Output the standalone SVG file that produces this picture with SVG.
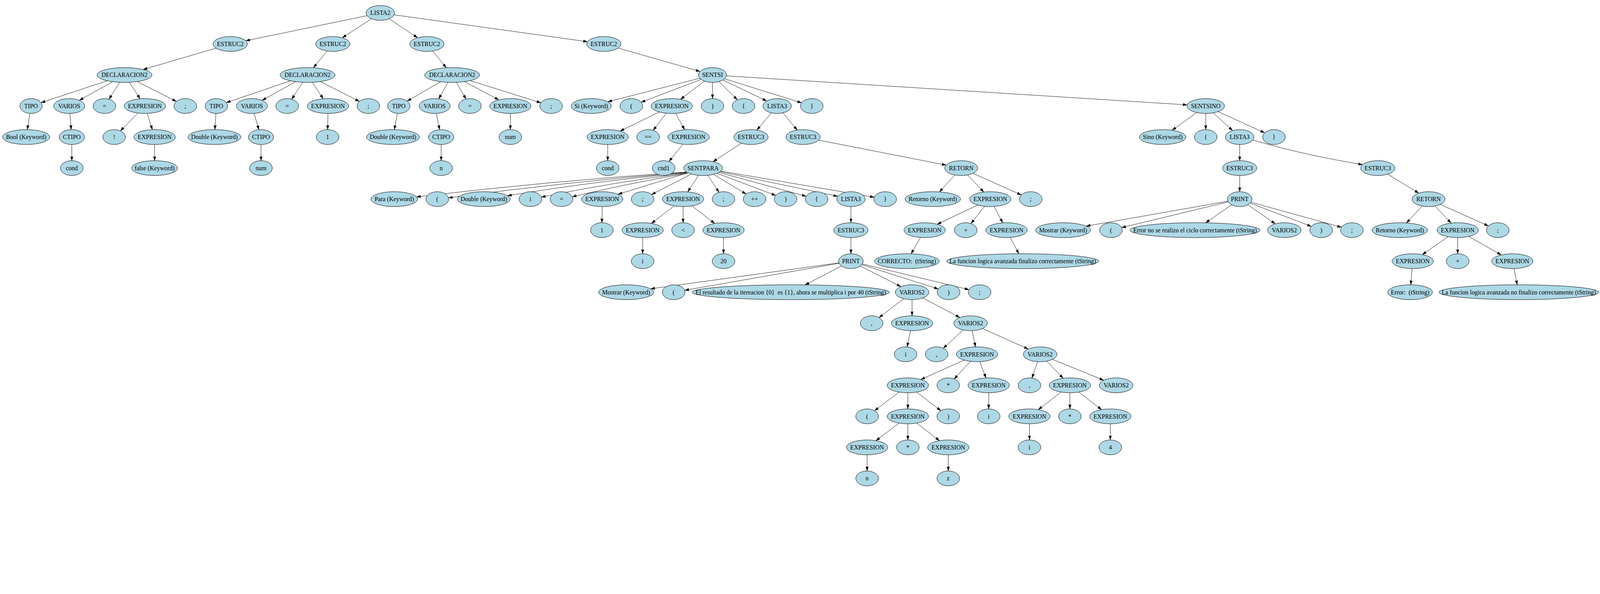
<svg xmlns="http://www.w3.org/2000/svg" width="4947" height="1521" viewBox="0 0 4947 1521" preserveAspectRatio="xMinYMin meet">
<style>
svg{width:100vw;height:auto;max-width:4947px}
.n ellipse{fill:#add8e6;stroke:#000;stroke-width:1.2}
.n text{font-family:"Liberation Serif","Times New Roman",serif;font-size:19px;text-anchor:middle;fill:#000}
.pre{white-space:pre}
#connectors path{stroke:#000;stroke-width:1.1;fill:none;marker-end:url(#arr)}
</style>
<defs>
<marker id="arr" markerUnits="userSpaceOnUse" viewBox="0 0 13 10" markerWidth="13" markerHeight="10" refX="13" refY="5" orient="auto"><path d="M0,0.8 L13,5 L0,9.2 z" fill="#000" stroke="#000" stroke-width="0.5"/></marker>
</defs>
<rect width="4947" height="1521" fill="#fff"/>
<g id="connectors">
<path d="M1135,48.5 L760,126"/>
<path d="M1148.5,58 L1058.3,116.8"/>
<path d="M1203.1,58.1 L1291.1,116.7"/>
<path d="M1218.5,45.9 L1816.5,129"/>
<path d="M668.1,148.9 L442.3,215.2"/>
<path d="M1011.4,157.7 L969.2,209.5"/>
<path d="M1337.6,157.7 L1379.8,209.5"/>
<path d="M1911.3,148.7 L2164.7,221.1"/>
<path d="M331.6,249.7 L126.9,317.7"/>
<path d="M348.2,252.7 L245.2,310.5"/>
<path d="M370.4,254.6 L336.7,306.8"/>
<path d="M399.9,254.6 L433.3,305.6"/>
<path d="M424.7,252.3 L545.4,313.9"/>
<path d="M92.4,350.9 L84.6,401"/>
<path d="M215.9,351 L220.1,401"/>
<path d="M222,447 L222,497"/>
<path d="M426.6,349.7 L372.1,404.7"/>
<path d="M455.1,350.9 L470.9,401.1"/>
<path d="M478,447 L478,497"/>
<path d="M898.4,249.9 L699.7,317.5"/>
<path d="M914,252.7 L810.3,310.5"/>
<path d="M936.1,254.6 L901.9,306.9"/>
<path d="M965.9,254.6 L999.3,305.6"/>
<path d="M990.7,252.3 L1111.4,313.9"/>
<path d="M667.6,351 L664.4,401"/>
<path d="M785.6,350.8 L800.4,401.3"/>
<path d="M807,447 L807,497"/>
<path d="M1014,351 L1013,401"/>
<path d="M1362.2,252.8 L1259,312.9"/>
<path d="M1385.2,254.7 L1356.5,305.8"/>
<path d="M1411,254.7 L1440.7,306.5"/>
<path d="M1436.4,252.5 L1542.2,308.9"/>
<path d="M1453.2,249.3 L1672.4,318.1"/>
<path d="M1228.7,350.8 L1219.3,401"/>
<path d="M1348.8,351 L1359.2,401"/>
<path d="M1364,447 L1364,497"/>
<path d="M1578,351 L1578,401"/>
<path d="M2163.8,242 L1879,314.9"/>
<path d="M2167.8,245.5 L1982.2,316.4"/>
<path d="M2178.2,250.9 L2104.3,307.2"/>
<path d="M2203,255 L2203,305"/>
<path d="M2223.3,252.3 L2279.8,308.8"/>
<path d="M2235.2,247.5 L2370.6,312.4"/>
<path d="M2240.5,243.7 L2478.4,318.1"/>
<path d="M2246.2,234.7 L3670.7,324.4"/>
<path d="M2038.9,346.5 L1917.1,405.5"/>
<path d="M2060.1,350.2 L2019.6,403.4"/>
<path d="M2089.2,350.6 L2116.8,401.4"/>
<path d="M1879,447 L1879,497"/>
<path d="M2111.3,446.1 L2068.3,499.6"/>
<path d="M2385.2,349 L2340.2,402.4"/>
<path d="M2420.6,349 L2465,402.4"/>
<path d="M2292.5,443.1 L2204.5,500.2"/>
<path d="M2531.3,433.5 L2925.3,510.8"/>
<path d="M2122,532 Q1700,560 1287.7,609.1"/>
<path d="M2122,533 Q1760,562 1386.5,612"/>
<path d="M2123,534 Q1830,562 1569.2,605.6"/>
<path d="M2124,535 Q1890,565 1673.8,609.9"/>
<path d="M2125,536 Q1940,568 1769.2,608.7"/>
<path d="M2127.2,534.4 L1910.6,601"/>
<path d="M2138.1,538.4 L2014.6,601.8"/>
<path d="M2159.6,542.3 L2126.5,593.6"/>
<path d="M2188.6,542.3 L2223.1,594.9"/>
<path d="M2206.2,539.4 L2307.2,600.4"/>
<path d="M2216.8,536.1 L2398.6,604.6"/>
<path d="M2222.9,533.4 L2492.7,607.2"/>
<path d="M2226.6,531.1 L2590.2,607.4"/>
<path d="M2228.8,529.3 L2703.1,610.2"/>
<path d="M1862,639 L1861,689"/>
<path d="M2084.9,636.8 L2014.1,691.2"/>
<path d="M2112,639 L2112,689"/>
<path d="M2139.1,636.8 L2209.9,691.2"/>
<path d="M1987,735 L1987,785"/>
<path d="M2237,735 L2237,785"/>
<path d="M2631,639 L2631,689"/>
<path d="M2631,735 L2631,785"/>
<path d="M2594,813.1 L2011.7,893.5"/>
<path d="M2594.5,814.4 L2116.8,898.1"/>
<path d="M2602.1,822.9 L2489.1,881.2"/>
<path d="M2660.1,822.8 L2785.8,886.7"/>
<path d="M2664.6,818.7 L2901.5,894"/>
<path d="M2666.3,816.5 L2996.1,896.1"/>
<path d="M2794.1,923.9 L2717.8,982.5"/>
<path d="M2820,927 L2820,977"/>
<path d="M2853.3,921.7 L2967.7,982.3"/>
<path d="M2815.2,1023 L2804.8,1073"/>
<path d="M2978.4,1020.7 L2916.4,1077.3"/>
<path d="M3005.8,1023 L3016.2,1073"/>
<path d="M3037.6,1016.3 L3179.4,1079.7"/>
<path d="M2981,1114 L2847,1174"/>
<path d="M3000.8,1117.8 L2950.2,1172.4"/>
<path d="M3029.5,1118.8 L3048.5,1169.2"/>
<path d="M2779.7,1212.8 L2703.9,1270.6"/>
<path d="M2807,1215 L2807,1265"/>
<path d="M2834.1,1212.8 L2909.2,1270.5"/>
<path d="M3057,1215 L3057,1265"/>
<path d="M2779.7,1308.8 L2708.3,1363.2"/>
<path d="M2807,1311 L2807,1361"/>
<path d="M2834.1,1308.8 L2904.9,1363.2"/>
<path d="M2681,1407 L2681,1457"/>
<path d="M2932,1407 L2932,1457"/>
<path d="M3208.2,1118.7 L3190.7,1169.6"/>
<path d="M3236.3,1117.2 L3287.2,1170.3"/>
<path d="M3254.2,1111.6 L3412.8,1176.4"/>
<path d="M3280.9,1212.8 L3210.1,1267.2"/>
<path d="M3308,1215 L3308,1265"/>
<path d="M3335.1,1212.8 L3405.9,1267.2"/>
<path d="M3183,1311 L3183,1361"/>
<path d="M3433,1311 L3433,1361"/>
<path d="M2952.5,541.3 L2904.5,593.7"/>
<path d="M2991.9,541.2 L3041.6,594.2"/>
<path d="M3008.2,536.2 L3158,603.1"/>
<path d="M3023.3,634.3 L2897.7,693.7"/>
<path d="M3044.5,638.1 L3002.2,691.6"/>
<path d="M3073.8,638.6 L3100.2,689.4"/>
<path d="M2846.1,734.5 L2817.1,785.2"/>
<path d="M3123.8,734.6 L3150,785"/>
<path d="M3700.1,348.2 L3624.1,403"/>
<path d="M3728,351 L3728,401"/>
<path d="M3751.1,349.1 L3811.2,404"/>
<path d="M3766.1,345.3 L3910.2,410.9"/>
<path d="M3833,447 L3833,497"/>
<path d="M3873.4,433.1 C4000,470 4100,490 4213,509.4"/>
<path d="M3833,543 L3833,593"/>
<path d="M4290.7,538.8 L4386.7,597.5"/>
<path d="M3796.5,622.4 L3358.3,699.5"/>
<path d="M3797.7,624.5 L3467.9,704.1"/>
<path d="M3808.1,633.3 L3727.6,689.3"/>
<path d="M3857.9,633.3 L3943.1,692.6"/>
<path d="M3865.2,628.2 L4054.7,700.5"/>
<path d="M3867.6,625.6 L4147.8,703.1"/>
<path d="M4397.3,637.2 L4348.7,689.7"/>
<path d="M4436.9,637.2 L4486.6,690.2"/>
<path d="M4453.2,632.2 L4602.1,699"/>
<path d="M4477.5,732.4 L4397.5,787.6"/>
<path d="M4507,735 L4507,785"/>
<path d="M4541.2,731.4 L4641.8,788.6"/>
<path d="M4366,831 L4362,881"/>
<path d="M4681,831 L4691,881"/>
</g>
<g id="n1" class="n"><ellipse cx="1176" cy="40" rx="44" ry="23"/><text x="1176" y="46.5">LISTA2</text></g>
<g id="n2" class="n"><ellipse cx="712" cy="136" rx="53" ry="23"/><text x="712" y="142.5">ESTRUC2</text></g>
<g id="n3" class="n"><ellipse cx="1029" cy="136" rx="53" ry="23"/><text x="1029" y="142.5">ESTRUC2</text></g>
<g id="n4" class="n"><ellipse cx="1320" cy="136" rx="53" ry="23"/><text x="1320" y="142.5">ESTRUC2</text></g>
<g id="n5" class="n"><ellipse cx="1867" cy="136" rx="53" ry="23"/><text x="1867" y="142.5">ESTRUC2</text></g>
<g id="n6" class="n"><ellipse cx="385" cy="232" rx="85" ry="23"/><text x="385" y="238.5" textLength="142" lengthAdjust="spacingAndGlyphs">DECLARACION2</text></g>
<g id="n7" class="n"><ellipse cx="951" cy="232" rx="85" ry="23"/><text x="951" y="238.5" textLength="142" lengthAdjust="spacingAndGlyphs">DECLARACION2</text></g>
<g id="n8" class="n"><ellipse cx="1398" cy="232" rx="85" ry="23"/><text x="1398" y="238.5" textLength="142" lengthAdjust="spacingAndGlyphs">DECLARACION2</text></g>
<g id="n9" class="n"><ellipse cx="2203" cy="232" rx="43.5" ry="23"/><text x="2203" y="238.5">SENTSI</text></g>
<g id="n10" class="n"><ellipse cx="96" cy="328" rx="34.5" ry="23"/><text x="96" y="334.5">TIPO</text></g>
<g id="n11" class="n"><ellipse cx="214" cy="328" rx="48" ry="23"/><text x="214" y="334.5">VARIOS</text></g>
<g id="n12" class="n"><ellipse cx="323" cy="328" rx="35" ry="23"/><text x="323" y="334.5">=</text></g>
<g id="n13" class="n"><ellipse cx="448" cy="328" rx="64" ry="23"/><text x="448" y="334.5">EXPRESION</text></g>
<g id="n14" class="n"><ellipse cx="573" cy="328" rx="35" ry="23"/><text x="573" y="334.5">;</text></g>
<g id="n15" class="n"><ellipse cx="669" cy="328" rx="34.5" ry="23"/><text x="669" y="334.5">TIPO</text></g>
<g id="n16" class="n"><ellipse cx="779" cy="328" rx="48" ry="23"/><text x="779" y="334.5">VARIOS</text></g>
<g id="n17" class="n"><ellipse cx="888" cy="328" rx="35" ry="23"/><text x="888" y="334.5">=</text></g>
<g id="n18" class="n"><ellipse cx="1014" cy="328" rx="64" ry="23"/><text x="1014" y="334.5">EXPRESION</text></g>
<g id="n19" class="n"><ellipse cx="1139" cy="328" rx="35" ry="23"/><text x="1139" y="334.5">;</text></g>
<g id="n20" class="n"><ellipse cx="1233" cy="328" rx="34.5" ry="23"/><text x="1233" y="334.5">TIPO</text></g>
<g id="n21" class="n"><ellipse cx="1344" cy="328" rx="48" ry="23"/><text x="1344" y="334.5">VARIOS</text></g>
<g id="n22" class="n"><ellipse cx="1453" cy="328" rx="35" ry="23"/><text x="1453" y="334.5">=</text></g>
<g id="n23" class="n"><ellipse cx="1578" cy="328" rx="64" ry="23"/><text x="1578" y="334.5">EXPRESION</text></g>
<g id="n24" class="n"><ellipse cx="1704" cy="328" rx="35" ry="23"/><text x="1704" y="334.5">;</text></g>
<g id="n25" class="n"><ellipse cx="1828" cy="328" rx="62" ry="23"/><text x="1828" y="334.5">Si (Keyword)</text></g>
<g id="n26" class="n"><ellipse cx="1952" cy="328" rx="35" ry="23"/><text x="1952" y="334.5">(</text></g>
<g id="n27" class="n"><ellipse cx="2077" cy="328" rx="64" ry="23"/><text x="2077" y="334.5">EXPRESION</text></g>
<g id="n28" class="n"><ellipse cx="2203" cy="328" rx="35" ry="23"/><text x="2203" y="334.5">)</text></g>
<g id="n29" class="n"><ellipse cx="2299" cy="328" rx="35" ry="23"/><text x="2299" y="334.5">{</text></g>
<g id="n30" class="n"><ellipse cx="2403" cy="328" rx="44" ry="23"/><text x="2403" y="334.5">LISTA3</text></g>
<g id="n31" class="n"><ellipse cx="2510" cy="328" rx="35" ry="23"/><text x="2510" y="334.5">}</text></g>
<g id="n32" class="n"><ellipse cx="3728" cy="328" rx="58" ry="23"/><text x="3728" y="334.5">SENTSINO</text></g>
<g id="n33" class="n"><ellipse cx="81" cy="424" rx="73" ry="23"/><text x="81" y="430.5">Bool (Keyword)</text></g>
<g id="n34" class="n"><ellipse cx="222" cy="424" rx="39" ry="23"/><text x="222" y="430.5">CTIPO</text></g>
<g id="n35" class="n"><ellipse cx="353" cy="424" rx="35" ry="23"/><text x="353" y="430.5">!</text></g>
<g id="n36" class="n"><ellipse cx="478" cy="424" rx="64" ry="23"/><text x="478" y="430.5">EXPRESION</text></g>
<g id="n37" class="n"><ellipse cx="663" cy="424" rx="82" ry="23"/><text x="663" y="430.5">Double (Keyword)</text></g>
<g id="n38" class="n"><ellipse cx="807" cy="424" rx="39" ry="23"/><text x="807" y="430.5">CTIPO</text></g>
<g id="n39" class="n"><ellipse cx="1013" cy="424" rx="35" ry="23"/><text x="1013" y="430.5">1</text></g>
<g id="n40" class="n"><ellipse cx="1215" cy="424" rx="82" ry="23"/><text x="1215" y="430.5">Double (Keyword)</text></g>
<g id="n41" class="n"><ellipse cx="1364" cy="424" rx="39" ry="23"/><text x="1364" y="430.5">CTIPO</text></g>
<g id="n42" class="n"><ellipse cx="1578" cy="424" rx="35" ry="23"/><text x="1578" y="430.5">num</text></g>
<g id="n43" class="n"><ellipse cx="1879" cy="424" rx="64" ry="23"/><text x="1879" y="430.5">EXPRESION</text></g>
<g id="n44" class="n"><ellipse cx="2004" cy="424" rx="35" ry="23"/><text x="2004" y="430.5">==</text></g>
<g id="n45" class="n"><ellipse cx="2129" cy="424" rx="64" ry="23"/><text x="2129" y="430.5">EXPRESION</text></g>
<g id="n46" class="n"><ellipse cx="2322" cy="424" rx="53" ry="23"/><text x="2322" y="430.5">ESTRUC3</text></g>
<g id="n47" class="n"><ellipse cx="2483" cy="424" rx="53" ry="23"/><text x="2483" y="430.5">ESTRUC3</text></g>
<g id="n48" class="n"><ellipse cx="3595" cy="424" rx="72" ry="23"/><text x="3595" y="430.5">Sino (Keyword)</text></g>
<g id="n49" class="n"><ellipse cx="3728" cy="424" rx="35" ry="23"/><text x="3728" y="430.5">{</text></g>
<g id="n50" class="n"><ellipse cx="3833" cy="424" rx="44" ry="23"/><text x="3833" y="430.5">LISTA3</text></g>
<g id="n51" class="n"><ellipse cx="3939" cy="424" rx="35" ry="23"/><text x="3939" y="430.5">}</text></g>
<g id="n52" class="n"><ellipse cx="222" cy="520" rx="35" ry="23"/><text x="222" y="526.5">cond</text></g>
<g id="n53" class="n"><ellipse cx="478" cy="520" rx="71" ry="23"/><text x="478" y="526.5">false (Keyword)</text></g>
<g id="n54" class="n"><ellipse cx="807" cy="520" rx="35" ry="23"/><text x="807" y="526.5">num</text></g>
<g id="n55" class="n"><ellipse cx="1364" cy="520" rx="35" ry="23"/><text x="1364" y="526.5">n</text></g>
<g id="n56" class="n"><ellipse cx="1879" cy="520" rx="35" ry="23"/><text x="1879" y="526.5">cond</text></g>
<g id="n57" class="n"><ellipse cx="2052" cy="520" rx="35" ry="23"/><text x="2052" y="526.5">cnd1</text></g>
<g id="n58" class="n"><ellipse cx="2174" cy="520" rx="60" ry="23"/><text x="2174" y="526.5">SENTPARA</text></g>
<g id="n59" class="n"><ellipse cx="2972" cy="520" rx="51" ry="23"/><text x="2972" y="526.5">RETORN</text></g>
<g id="n60" class="n"><ellipse cx="3833" cy="520" rx="53" ry="23"/><text x="3833" y="526.5">ESTRUC3</text></g>
<g id="n61" class="n"><ellipse cx="4260" cy="520" rx="53" ry="23"/><text x="4260" y="526.5">ESTRUC3</text></g>
<g id="n62" class="n"><ellipse cx="1219" cy="616" rx="72" ry="23"/><text x="1219" y="622.5">Para (Keyword)</text></g>
<g id="n63" class="n"><ellipse cx="1352" cy="616" rx="35" ry="23"/><text x="1352" y="622.5">(</text></g>
<g id="n64" class="n"><ellipse cx="1496" cy="616" rx="82" ry="23"/><text x="1496" y="622.5">Double (Keyword)</text></g>
<g id="n65" class="n"><ellipse cx="1640" cy="616" rx="35" ry="23"/><text x="1640" y="622.5">i</text></g>
<g id="n66" class="n"><ellipse cx="1736" cy="616" rx="35" ry="23"/><text x="1736" y="622.5">=</text></g>
<g id="n67" class="n"><ellipse cx="1862" cy="616" rx="64" ry="23"/><text x="1862" y="622.5">EXPRESION</text></g>
<g id="n68" class="n"><ellipse cx="1987" cy="616" rx="35" ry="23"/><text x="1987" y="622.5">;</text></g>
<g id="n69" class="n"><ellipse cx="2112" cy="616" rx="64" ry="23"/><text x="2112" y="622.5">EXPRESION</text></g>
<g id="n70" class="n"><ellipse cx="2237" cy="616" rx="35" ry="23"/><text x="2237" y="622.5">;</text></g>
<g id="n71" class="n"><ellipse cx="2333" cy="616" rx="35" ry="23"/><text x="2333" y="622.5">++</text></g>
<g id="n72" class="n"><ellipse cx="2429" cy="616" rx="35" ry="23"/><text x="2429" y="622.5">)</text></g>
<g id="n73" class="n"><ellipse cx="2525" cy="616" rx="35" ry="23"/><text x="2525" y="622.5">{</text></g>
<g id="n74" class="n"><ellipse cx="2631" cy="616" rx="44" ry="23"/><text x="2631" y="622.5">LISTA3</text></g>
<g id="n75" class="n"><ellipse cx="2737" cy="616" rx="35" ry="23"/><text x="2737" y="622.5">}</text></g>
<g id="n76" class="n"><ellipse cx="2884" cy="616" rx="86" ry="23"/><text x="2884" y="622.5">Retorno (Keyword)</text></g>
<g id="n77" class="n"><ellipse cx="3062" cy="616" rx="64" ry="23"/><text x="3062" y="622.5">EXPRESION</text></g>
<g id="n78" class="n"><ellipse cx="3187" cy="616" rx="35" ry="23"/><text x="3187" y="622.5">;</text></g>
<g id="n79" class="n"><ellipse cx="3833" cy="616" rx="38" ry="23"/><text x="3833" y="622.5">PRINT</text></g>
<g id="n80" class="n"><ellipse cx="4417" cy="616" rx="51" ry="23"/><text x="4417" y="622.5">RETORN</text></g>
<g id="n81" class="n"><ellipse cx="1861" cy="712" rx="35" ry="23"/><text x="1861" y="718.5">1</text></g>
<g id="n82" class="n"><ellipse cx="1987" cy="712" rx="64" ry="23"/><text x="1987" y="718.5">EXPRESION</text></g>
<g id="n83" class="n"><ellipse cx="2112" cy="712" rx="35" ry="23"/><text x="2112" y="718.5">&lt;</text></g>
<g id="n84" class="n"><ellipse cx="2237" cy="712" rx="64" ry="23"/><text x="2237" y="718.5">EXPRESION</text></g>
<g id="n85" class="n"><ellipse cx="2631" cy="712" rx="53" ry="23"/><text x="2631" y="718.5">ESTRUC3</text></g>
<g id="n86" class="n"><ellipse cx="2859" cy="712" rx="64" ry="23"/><text x="2859" y="718.5">EXPRESION</text></g>
<g id="n87" class="n"><ellipse cx="2986" cy="712" rx="35" ry="23"/><text x="2986" y="718.5">+</text></g>
<g id="n88" class="n"><ellipse cx="3112" cy="712" rx="64" ry="23"/><text x="3112" y="718.5">EXPRESION</text></g>
<g id="n89" class="n"><ellipse cx="3287" cy="712" rx="85" ry="23"/><text x="3287" y="718.5">Mostrar (Keyword)</text></g>
<g id="n90" class="n"><ellipse cx="3435" cy="712" rx="35" ry="23"/><text x="3435" y="718.5">(</text></g>
<g id="n91" class="n"><ellipse cx="3695" cy="712" rx="201" ry="23"/><text x="3695" y="718.5">Error no se realizo el ciclo correctamente (tString)</text></g>
<g id="n92" class="n"><ellipse cx="3971" cy="712" rx="52" ry="23"/><text x="3971" y="718.5">VARIOS2</text></g>
<g id="n93" class="n"><ellipse cx="4085" cy="712" rx="35" ry="23"/><text x="4085" y="718.5">)</text></g>
<g id="n94" class="n"><ellipse cx="4180" cy="712" rx="35" ry="23"/><text x="4180" y="718.5">;</text></g>
<g id="n95" class="n"><ellipse cx="4328" cy="712" rx="86" ry="23"/><text x="4328" y="718.5">Retorno (Keyword)</text></g>
<g id="n96" class="n"><ellipse cx="4507" cy="712" rx="64" ry="23"/><text x="4507" y="718.5">EXPRESION</text></g>
<g id="n97" class="n"><ellipse cx="4631" cy="712" rx="35" ry="23"/><text x="4631" y="718.5">;</text></g>
<g id="n98" class="n"><ellipse cx="1987" cy="808" rx="35" ry="23"/><text x="1987" y="814.5">i</text></g>
<g id="n99" class="n"><ellipse cx="2237" cy="808" rx="35" ry="23"/><text x="2237" y="814.5">20</text></g>
<g id="n100" class="n"><ellipse cx="2631" cy="808" rx="38" ry="23"/><text x="2631" y="814.5">PRINT</text></g>
<g id="n101" class="n"><ellipse cx="2804" cy="808" rx="100" ry="23"/><text class="pre" xml:space="preserve" x="2804" y="814.5">CORRECTO:  (tString)</text></g>
<g id="n102" class="n"><ellipse cx="3162" cy="808" rx="235" ry="23"/><text x="3162" y="814.5">La funcion logica avanzada finalizo correctamente (tString)</text></g>
<g id="n103" class="n"><ellipse cx="4368" cy="808" rx="64" ry="23"/><text x="4368" y="814.5">EXPRESION</text></g>
<g id="n104" class="n"><ellipse cx="4507" cy="808" rx="35" ry="23"/><text x="4507" y="814.5">+</text></g>
<g id="n105" class="n"><ellipse cx="4676" cy="808" rx="64" ry="23"/><text x="4676" y="814.5">EXPRESION</text></g>
<g id="n106" class="n"><ellipse cx="1936" cy="904" rx="85" ry="23"/><text x="1936" y="910.5">Mostrar (Keyword)</text></g>
<g id="n107" class="n"><ellipse cx="2083" cy="904" rx="35" ry="23"/><text x="2083" y="910.5">(</text></g>
<g id="n108" class="n"><ellipse cx="2445" cy="904" rx="305" ry="23"/><text class="pre" xml:space="preserve" x="2445" y="910.5">El resultado de la itereacion {0}  es {1}, ahora se multiplica i por 40 (tString)</text></g>
<g id="n109" class="n"><ellipse cx="2820" cy="904" rx="52" ry="23"/><text x="2820" y="910.5">VARIOS2</text></g>
<g id="n110" class="n"><ellipse cx="2933" cy="904" rx="35" ry="23"/><text x="2933" y="910.5">)</text></g>
<g id="n111" class="n"><ellipse cx="3029" cy="904" rx="35" ry="23"/><text x="3029" y="910.5">;</text></g>
<g id="n112" class="n"><ellipse cx="4360" cy="904" rx="69" ry="23"/><text class="pre" xml:space="preserve" x="4360" y="910.5">Error:  (tString)</text></g>
<g id="n113" class="n"><ellipse cx="4696" cy="904" rx="247" ry="23"/><text x="4696" y="910.5">La funcion logica avanzada no finalizo correctamente (tString)</text></g>
<g id="n114" class="n"><ellipse cx="2695" cy="1000" rx="35" ry="23"/><text x="2695" y="1006.5">,</text></g>
<g id="n115" class="n"><ellipse cx="2820" cy="1000" rx="64" ry="23"/><text x="2820" y="1006.5">EXPRESION</text></g>
<g id="n116" class="n"><ellipse cx="3001" cy="1000" rx="52" ry="23"/><text x="3001" y="1006.5">VARIOS2</text></g>
<g id="n117" class="n"><ellipse cx="2800" cy="1096" rx="35" ry="23"/><text x="2800" y="1102.5">i</text></g>
<g id="n118" class="n"><ellipse cx="2896" cy="1096" rx="35" ry="23"/><text x="2896" y="1102.5">,</text></g>
<g id="n119" class="n"><ellipse cx="3021" cy="1096" rx="64" ry="23"/><text x="3021" y="1102.5">EXPRESION</text></g>
<g id="n120" class="n"><ellipse cx="3216" cy="1096" rx="52" ry="23"/><text x="3216" y="1102.5">VARIOS2</text></g>
<g id="n121" class="n"><ellipse cx="2807" cy="1192" rx="64" ry="23"/><text x="2807" y="1198.5">EXPRESION</text></g>
<g id="n122" class="n"><ellipse cx="2932" cy="1192" rx="35" ry="23"/><text x="2932" y="1198.5">*</text></g>
<g id="n123" class="n"><ellipse cx="3057" cy="1192" rx="64" ry="23"/><text x="3057" y="1198.5">EXPRESION</text></g>
<g id="n124" class="n"><ellipse cx="3183" cy="1192" rx="35" ry="23"/><text x="3183" y="1198.5">,</text></g>
<g id="n125" class="n"><ellipse cx="3308" cy="1192" rx="64" ry="23"/><text x="3308" y="1198.5">EXPRESION</text></g>
<g id="n126" class="n"><ellipse cx="3451" cy="1192" rx="52" ry="23"/><text x="3451" y="1198.5">VARIOS2</text></g>
<g id="n127" class="n"><ellipse cx="2681" cy="1288" rx="35" ry="23"/><text x="2681" y="1294.5">(</text></g>
<g id="n128" class="n"><ellipse cx="2807" cy="1288" rx="64" ry="23"/><text x="2807" y="1294.5">EXPRESION</text></g>
<g id="n129" class="n"><ellipse cx="2932" cy="1288" rx="35" ry="23"/><text x="2932" y="1294.5">)</text></g>
<g id="n130" class="n"><ellipse cx="3057" cy="1288" rx="35" ry="23"/><text x="3057" y="1294.5">i</text></g>
<g id="n131" class="n"><ellipse cx="3183" cy="1288" rx="64" ry="23"/><text x="3183" y="1294.5">EXPRESION</text></g>
<g id="n132" class="n"><ellipse cx="3308" cy="1288" rx="35" ry="23"/><text x="3308" y="1294.5">*</text></g>
<g id="n133" class="n"><ellipse cx="3433" cy="1288" rx="64" ry="23"/><text x="3433" y="1294.5">EXPRESION</text></g>
<g id="n134" class="n"><ellipse cx="2681" cy="1384" rx="64" ry="23"/><text x="2681" y="1390.5">EXPRESION</text></g>
<g id="n135" class="n"><ellipse cx="2807" cy="1384" rx="35" ry="23"/><text x="2807" y="1390.5">*</text></g>
<g id="n136" class="n"><ellipse cx="2932" cy="1384" rx="64" ry="23"/><text x="2932" y="1390.5">EXPRESION</text></g>
<g id="n137" class="n"><ellipse cx="3183" cy="1384" rx="35" ry="23"/><text x="3183" y="1390.5">i</text></g>
<g id="n138" class="n"><ellipse cx="3433" cy="1384" rx="35" ry="23"/><text x="3433" y="1390.5">4</text></g>
<g id="n139" class="n"><ellipse cx="2681" cy="1480" rx="35" ry="23"/><text x="2681" y="1486.5">n</text></g>
<g id="n140" class="n"><ellipse cx="2932" cy="1480" rx="35" ry="23"/><text x="2932" y="1486.5">z</text></g>
</svg>
